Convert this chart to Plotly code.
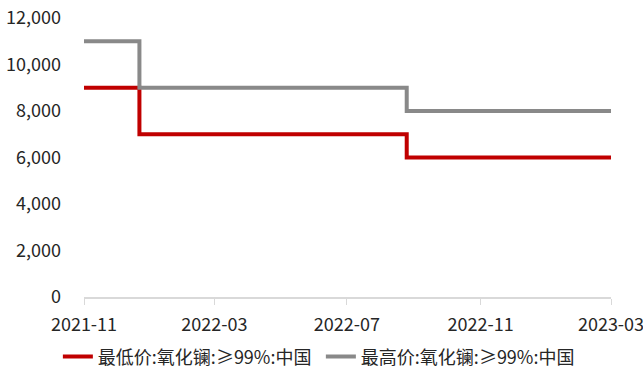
import plotly.graph_objects as go

# Lanthanum oxide (>=99%, China) price, yuan/ton, step series
dates = ["2021-11-01", "2021-12-22", "2022-08-25", "2023-03-01"]
low_price = [9000, 7000, 6000, 6000]
high_price = [11000, 9000, 8000, 8000]
low_name = "最低价:氧化镧:≥99%:中国"
high_name = "最高价:氧化镧:≥99%:中国"

x_ticks = ["2021-11-01", "2022-03-01", "2022-07-01", "2022-11-01", "2023-03-01"]
x_tick_text = ["2021-11", "2022-03", "2022-07", "2022-11", "2023-03"]
y_ticks = [0, 2000, 4000, 6000, 8000, 10000, 12000]

font_family = "Noto Sans CJK SC, Noto Sans, sans-serif"

fig = go.Figure()
fig.add_trace(go.Scatter(
    x=dates, y=low_price, name=low_name, mode="lines",
    line=dict(color="#C00000", width=4, shape="hv"),
))
fig.add_trace(go.Scatter(
    x=dates, y=high_price, name=high_name, mode="lines",
    line=dict(color="#898989", width=4, shape="hv"),
))

fig.update_layout(
    template="none",
    width=643, height=371,
    margin=dict(l=84, r=32, t=18, b=74),
    paper_bgcolor="white", plot_bgcolor="white",
    font=dict(family=font_family, size=18, color="#262626"),
    showlegend=True,
    legend=dict(
        orientation="h", xref="container", yref="container",
        x=0.09, xanchor="left", y=0.038, yanchor="middle",
        font=dict(size=18, color="#262626"),
        itemwidth=30, tracegroupgap=0, bgcolor="rgba(0,0,0,0)",
        entrywidth=218, entrywidthmode="pixels",
    ),
    xaxis=dict(
        type="date", automargin=False,
        range=["2021-11-01", "2023-03-01"],
        tickvals=x_ticks, ticktext=x_tick_text,
        ticklabeloverflow="allow",
        showgrid=False, zeroline=False,
        showline=True, linecolor="#d9d9d9", linewidth=2,
        ticks="outside", ticklen=6, tickcolor="#d9d9d9", tickwidth=1,
        ticklabelstandoff=4,
    ),
    yaxis=dict(
        range=[0, 12000], automargin=False,
        tickvals=y_ticks, tickformat=",d",
        showgrid=False, zeroline=False, showline=False,
        ticks="", ticklabelstandoff=22,
    ),
)

fig.write_html("out.html")
